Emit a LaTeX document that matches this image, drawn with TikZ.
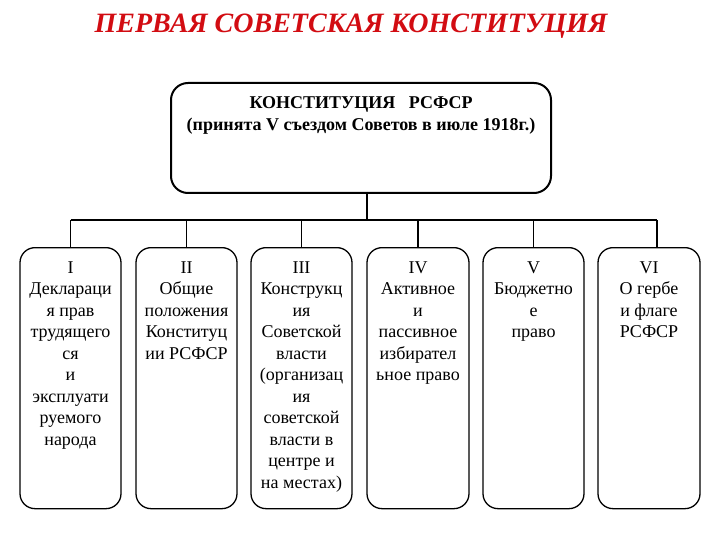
\documentclass[tikz,border=0pt]{standalone}
\usepackage{fontspec}
\setmainfont{Liberation Serif}
\definecolor{titlered}{RGB}{210,12,18}
\begin{document}
\begin{tikzpicture}[x=1pt,y=-1pt,
  lowbox/.style={draw, line width=1.3pt, rounded corners=15pt, anchor=north,
    inner xsep=0pt, inner ysep=14pt, font=\fontsize{18}{21.5}\selectfont},
  topbox/.style={draw, line width=2pt, rounded corners=17pt, anchor=north,
    inner xsep=4pt, inner ysep=14pt, font=\fontsize{18}{22}\selectfont\bfseries},
  titlestyle/.style={anchor=base, text=titlered, inner sep=0pt,
    font=\fontsize{28}{32}\selectfont\bfseries\itshape},
  conn/.style={line width=1.2pt}]
\useasboundingbox (0,0) rectangle (720,540);
\node[titlestyle] (title) at (351,33) {ПЕРВАЯ СОВЕТСКАЯ КОНСТИТУЦИЯ};
\node[topbox] (top) at (361,82) {\parbox[t][82pt][t]{372pt}{\centering
  КОНСТИТУЦИЯ\ \ \ РСФСР\\(принята V съездом Советов в июле 1918г.)}};
\node[lowbox] (b1) at (70.5,247) {\parbox[t][233pt][t]{101pt}{\centering
  I\\Деклараци\\я прав\\трудящего\\ся\\и\\эксплуати\\руемого\\народа}};
\node[lowbox] (b2) at (186.5,247) {\parbox[t][233pt][t]{101pt}{\centering
  II\\Общие\\положения\\Конституц\\ии РСФСР}};
\node[lowbox] (b3) at (301.5,247) {\parbox[t][233pt][t]{101pt}{\centering
  III\\Конструкц\\ия\\Советской\\власти\\(организац\\ия\\советской\\власти в\\центре и\\на местах)}};
\node[lowbox] (b4) at (418,247) {\parbox[t][233pt][t]{102pt}{\centering
  IV\\Активное\\и\\пассивное\\избирател\\ьное право}};
\node[lowbox] (b5) at (533.5,247) {\parbox[t][233pt][t]{101pt}{\centering
  V\\Бюджетно\\е\\право}};
\node[lowbox] (b6) at (649,247) {\parbox[t][233pt][t]{102pt}{\centering
  VI\\О гербе\\и флаге\\РСФСР}};
\coordinate (topdrop) at (367,192);
\coordinate (busL) at (70.5,220);
\coordinate (busR) at (657,220);
\coordinate (drop6) at (657,247);
\draw[conn] (topdrop) -- (topdrop |- busL);
\draw[conn] (busL) -- (busR);
\draw[conn] (b1.north) -- (b1.north |- busL);
\draw[conn] (b2.north) -- (b2.north |- busL);
\draw[conn] (b3.north) -- (b3.north |- busL);
\draw[conn] (b4.north) -- (b4.north |- busL);
\draw[conn] (b5.north) -- (b5.north |- busL);
\draw[conn] (drop6) -- (busR);
\end{tikzpicture}
\end{document}
